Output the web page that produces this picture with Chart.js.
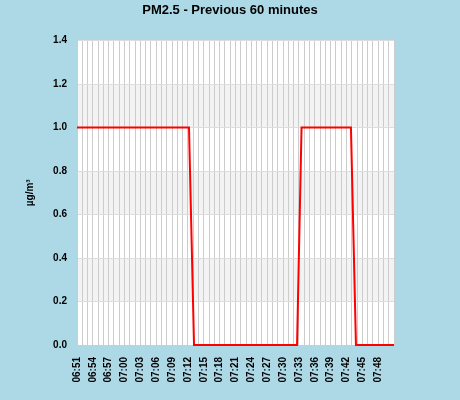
<!DOCTYPE html>
<html>
<head>
<meta charset="utf-8">
<script src="https://cdn.jsdelivr.net/npm/chart.js@4.4.0/dist/chart.umd.min.js"></script>
<style>
    html, body { margin: 0; padding: 0; background: #add8e6; }
    #wrap { width: 460px; height: 400px; }
</style>
</head>
<body>
<div id="wrap"><canvas id="pmChart" width="460" height="400"></canvas></div>
<script>
// Readings for the last hour (time of reading, PM2.5 in µg/m³)
const readingTimes = ['06:51:00', '07:12:12', '07:13:09', '07:32:39', '07:33:30', '07:42:51', '07:43:48', '07:51:00'];
const pmValues = [1.0, 1.0, 0.0, 0.0, 1.0, 1.0, 0.0, 0.0];

// Axis labels
const xTickLabels = ['06:51', '06:54', '06:57', '07:00', '07:03', '07:06', '07:09', '07:12', '07:15', '07:18',
                     '07:21', '07:24', '07:27', '07:30', '07:33', '07:36', '07:39', '07:42', '07:45', '07:48'];
const yTickValues = [0.0, 0.2, 0.4, 0.6, 0.8, 1.0, 1.2, 1.4];

// minutes since the start of the window
function toMinutes(t) {
    const p = t.split(':').map(Number);
    const s = readingTimes[0].split(':').map(Number);
    return (p[0] * 60 + p[1] + (p[2] || 0) / 60) - (s[0] * 60 + s[1] + (s[2] || 0) / 60);
}

const points = readingTimes.map((t, i) => ({ x: toMinutes(t), y: pmValues[i] }));

// White plot area with grey bands every other step
const plotBands = {
    id: 'plotBands',
    beforeDraw(chart) {
        const { ctx, chartArea: a, scales: { y } } = chart;
        ctx.save();
        ctx.fillStyle = '#ffffff';
        ctx.fillRect(a.left, a.top, a.right - a.left, a.bottom - a.top);
        ctx.fillStyle = '#f3f3f3';
        for (let i = 1; i < yTickValues.length - 1; i += 2) {
            const top = y.getPixelForValue(yTickValues[i + 1]);
            const bottom = y.getPixelForValue(yTickValues[i]);
            ctx.fillRect(a.left, top, a.right - a.left, bottom - top);
        }
        ctx.restore();
    }
};

Chart.defaults.font.family = '"Liberation Sans", Arial, sans-serif';
Chart.defaults.color = '#000';

const ctx = document.getElementById('pmChart').getContext('2d');
const pmChart = new Chart(ctx, {
    type: 'line',
    data: {
        datasets: [{
            data: points,
            borderColor: '#ff0000',
            borderWidth: 2,
            pointRadius: 0,
            tension: 0,
            fill: false,
            clip: false
        }]
    },
    options: {
        responsive: false,
        animation: false,
        layout: { padding: 0 },
        plugins: {
            legend: { display: false },
            tooltip: { enabled: false },
            title: {
                display: true,
                text: 'PM2.5 - Previous 60 minutes',
                font: { size: 13, weight: 'bold' },
                color: '#000',
                padding: { top: 3, bottom: 22 }
            }
        },
        scales: {
            x: {
                type: 'linear',
                min: 0,
                max: 60,
                afterFit(scale) { scale.height = 55; },
                border: { color: '#cccccc' },
                grid: { color: '#cccccc', drawTicks: false },
                ticks: {
                    stepSize: 1,
                    autoSkip: false,
                    minRotation: 90,
                    maxRotation: 90,
                    padding: 12,
                    font: { size: 10, weight: 'bold' },
                    callback: v => (v % 3 === 0 && xTickLabels[v / 3]) ? xTickLabels[v / 3] : ''
                }
            },
            y: {
                min: 0,
                max: 1.4,
                afterFit(scale) { scale.width = 77; },
                border: { color: '#cccccc' },
                grid: { color: '#dddddd', drawTicks: false },
                title: {
                    display: true,
                    text: 'µg/m³',
                    font: { size: 10, weight: 'bold' },
                    padding: { top: 24, bottom: 0 }
                },
                ticks: {
                    stepSize: 0.2,
                    padding: 10,
                    font: { size: 10, weight: 'bold' },
                    callback: v => v.toFixed(1)
                }
            },
            // empty right margin so the title centres on the whole image
            yRight: {
                position: 'right',
                min: 0,
                max: 1.4,
                afterFit(scale) { scale.width = 66; },
                border: { display: false },
                grid: { display: false, drawTicks: false },
                ticks: { display: false }
            }
        }
    },
    plugins: [plotBands]
});
</script>
</body>
</html>
